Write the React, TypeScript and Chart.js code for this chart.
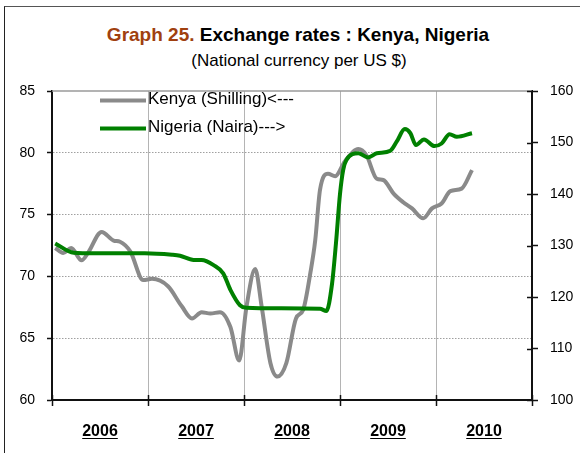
import React, { useEffect, useRef } from "react";
import { Chart, registerables } from "chart.js";

Chart.register(...registerables);

const FONT = "'Liberation Sans', Arial, Helvetica, sans-serif";

// x values: months elapsed since 1 January 2006
const yearLabels = ["2006", "2007", "2008", "2009", "2010"];
const yearStartMonths = [0, 12, 24, 36, 48, 60];
const yearMidMonths = [6, 18, 30, 42, 54];

const leftTicks = [60, 65, 70, 75, 80, 85];
const rightTicks = [100, 110, 120, 130, 140, 150, 160];

const kenyaMonths = [
  0.4, 1.4, 2.4, 3.7, 4.5, 6.2, 7.7, 8.5, 9.8, 11.4, 12.5, 14.5, 16.2, 17.5, 18.7, 19.8,
  21, 22.3, 23.4, 24.3, 25.4, 26.2, 27.3, 28.2, 29.3, 30.5, 31.4, 32.3, 32.9, 33.5, 34.5,
  35.4, 36.6, 38.3, 39.3, 40.6, 41.4, 42.7, 43.9, 45, 46.4, 47.5, 48.7, 49.8, 51.2, 52.5,
];
const kenyaValues = [
  72.3, 71.9, 72.3, 71.3, 71.9, 73.6, 72.9, 72.8, 72.0, 69.7, 69.8, 69.2, 67.6, 66.6, 67.1, 67.0,
  67.1, 65.9, 63.2, 67.5, 70.6, 67.6, 63.0, 61.9, 63.0, 66.6, 67.3, 70.3, 72.9, 77.0, 78.3,
  78.1, 79.3, 80.3, 79.8, 77.9, 77.8, 76.7, 76.0, 75.5, 74.7, 75.5, 75.9, 76.9, 77.1, 78.6,
];

const nigeriaMonths = [
  0.4, 2.7, 5.4, 11.6, 15, 16, 17.7, 18.7, 20.2, 21.4, 22.3, 23.5, 24.3, 28.5, 33.5, 34.3,
  35.0, 35.5, 36.0, 36.4, 36.8, 38.3, 39.5, 40.6, 42.3, 43.1, 44.1, 44.8, 45.5, 46.5, 47.8,
  48.7, 49.7, 50.6, 52.5,
];
const nigeriaValues = [
  130.4, 128.6, 128.5, 128.5, 128.2, 128.0, 127.2, 127.2, 126.2, 124.6, 121.4, 118.4, 117.9,
  117.8, 117.7, 117.3, 122.5, 130.5, 140.0, 144.7, 146.6, 147.9, 147.1, 147.9, 148.4, 150.2,
  152.6, 151.8, 149.5, 150.6, 149.3, 149.8, 151.6, 151.1, 151.8,
];

const seriesLabels = ["Kenya (Shilling)<---", "Nigeria (Naira)--->"];
const seriesColors = ["#8a8a8a", "#008000"];

const decorPlugin = {
  id: "decor",
  beforeDatasetsDraw(chart: any) {
    const { ctx, chartArea, scales } = chart;
    ctx.save();
    // top frame of plot area
    ctx.strokeStyle = "#9a9a9a";
    ctx.lineWidth = 1.5;
    ctx.beginPath();
    ctx.moveTo(chartArea.left, chartArea.top);
    ctx.lineTo(chartArea.right, chartArea.top);
    ctx.stroke();
    // inner halves of crossing tick marks
    ctx.strokeStyle = "#111";
    ctx.lineWidth = 1.5;
    scales.x.ticks.forEach((t: any) => {
      const px = Math.round(scales.x.getPixelForValue(t.value)) + 0.5;
      ctx.beginPath();
      ctx.moveTo(px, chartArea.bottom - 5);
      ctx.lineTo(px, chartArea.bottom);
      ctx.stroke();
    });
    scales.y2.ticks.forEach((t: any) => {
      const py = Math.round(scales.y2.getPixelForValue(t.value)) + 0.5;
      ctx.beginPath();
      ctx.moveTo(chartArea.right - 5, py);
      ctx.lineTo(chartArea.right, py);
      ctx.stroke();
    });
    ctx.restore();
  },
  afterDraw(chart: any) {
    const { ctx, scales } = chart;
    ctx.save();
    // legend inside plot area
    const legendRows = [100.5, 128.5];
    chart.data.datasets.forEach((ds: any, i: number) => {
      const y = legendRows[i];
      ctx.strokeStyle = ds.borderColor;
      ctx.lineWidth = 4;
      ctx.lineCap = "butt";
      ctx.beginPath();
      ctx.moveTo(100, y);
      ctx.lineTo(146, y);
      ctx.stroke();
      ctx.fillStyle = "#000";
      ctx.font = `17px ${FONT}`;
      ctx.textBaseline = "middle";
      ctx.textAlign = "left";
      ctx.fillText(ds.label, 148, y - 1);
    });
    // underline year labels
    const x2 = scales.x2;
    ctx.font = `bold 16px ${FONT}`;
    ctx.textBaseline = "middle";
    const centerY = x2.top + 14 + 16 * 1.2 / 2;
    ctx.strokeStyle = "#000";
    ctx.lineWidth = 1.2;
    x2.ticks.forEach((t: any, i: number) => {
      const label = yearLabels[i];
      const m = ctx.measureText(label);
      const px = x2.getPixelForValue(t.value);
      const uy = Math.round(centerY + m.actualBoundingBoxDescent + 2) + 0.5;
      ctx.beginPath();
      ctx.moveTo(px - m.width / 2, uy);
      ctx.lineTo(px + m.width / 2, uy);
      ctx.stroke();
    });
    ctx.restore();
  },
};

export default function App() {
  const ref = useRef<HTMLCanvasElement>(null);

  useEffect(() => {
    const canvas = ref.current!;
    const chart = new Chart(canvas, {
      type: "line",
      data: {
        datasets: [
          {
            label: seriesLabels[0],
            data: kenyaMonths.map((m, i) => ({ x: m, y: kenyaValues[i] })),
            xAxisID: "x",
            yAxisID: "y",
            borderColor: seriesColors[0],
            borderWidth: 4,
            pointRadius: 0,
            cubicInterpolationMode: "monotone",
            order: 1,
          },
          {
            label: seriesLabels[1],
            data: nigeriaMonths.map((m, i) => ({ x: m, y: nigeriaValues[i] })),
            xAxisID: "x",
            yAxisID: "y2",
            borderColor: seriesColors[1],
            borderWidth: 4,
            pointRadius: 0,
            cubicInterpolationMode: "monotone",
            order: 0,
          },
        ],
      },
      options: {
        responsive: false,
        animation: false,
        devicePixelRatio: 1,
        events: [],
        layout: { padding: { left: 0, right: 0, top: 91, bottom: 0 } },
        plugins: {
          legend: { display: false },
          tooltip: { enabled: false },
          title: { display: false },
        },
        scales: {
          x: {
            type: "linear",
            position: "bottom",
            min: 0,
            max: 60,
            weight: 0,
            afterBuildTicks: (s: any) => {
              s.ticks = yearStartMonths.map((v) => ({ value: v }));
            },
            afterFit: (s: any) => {
              s.height = 8;
            },
            ticks: { display: false },
            grid: {
              color: (c: any) =>
                c.tick && (c.tick.value === 0 || c.tick.value === 60) ? "rgba(0,0,0,0)" : "#b4b4b4",
              lineWidth: 1,
              tickColor: "#111",
              tickLength: 6,
              tickWidth: 1.5,
            },
            border: { color: "#111", width: 2 },
          },
          x2: {
            type: "linear",
            position: "bottom",
            min: 0,
            max: 60,
            weight: 1,
            afterBuildTicks: (s: any) => {
              s.ticks = yearMidMonths.map((v) => ({ value: v }));
            },
            afterFit: (s: any) => {
              s.height = 45;
            },
            ticks: {
              padding: 14,
              autoSkip: false,
              maxRotation: 0,
              color: "#000",
              font: { size: 16, weight: "bold", family: FONT },
              callback: (v: any) => yearLabels[yearMidMonths.indexOf(Number(v))],
            },
            grid: { display: false, drawTicks: false },
            border: { display: false },
          },
          y: {
            position: "left",
            min: 60,
            max: 85,
            afterBuildTicks: (s: any) => {
              s.ticks = leftTicks.map((v) => ({ value: v }));
            },
            afterFit: (s: any) => {
              s.width = 52;
            },
            ticks: { padding: 12, color: "#000", font: { size: 14, family: FONT } },
            grid: {
              color: (c: any) =>
                c.tick && (c.tick.value === 60 || c.tick.value === 85) ? "rgba(0,0,0,0)" : "#a0a0a0",
              lineWidth: 1,
              tickColor: "#111",
              tickLength: 5,
              tickWidth: 1.5,
            },
            border: { color: "#111", width: 2, dash: [1.5, 1.5] },
          },
          y2: {
            position: "right",
            min: 100,
            max: 160,
            afterBuildTicks: (s: any) => {
              s.ticks = rightTicks.map((v) => ({ value: v }));
            },
            afterFit: (s: any) => {
              s.width = 48;
            },
            ticks: { padding: 12, color: "#000", font: { size: 14, family: FONT } },
            grid: {
              drawOnChartArea: false,
              tickColor: "#111",
              tickLength: 6,
              tickWidth: 1.5,
            },
            border: { color: "#111", width: 2 },
          },
        },
      } as any,
      plugins: [decorPlugin],
    });
    return () => chart.destroy();
  }, []);

  return (
    <div style={{ position: "absolute", left: 0, top: 0, width: 580, height: 453, background: "#fff", overflow: "hidden", fontFamily: FONT }}>
      <div
        style={{
          position: "absolute",
          left: 4,
          top: 6,
          width: 600,
          height: 470,
          borderTop: "1.5px solid #555",
          borderLeft: "1px solid #222",
        }}
      />
      <div
        style={{
          position: "absolute",
          left: 0,
          width: 596,
          top: 25,
          fontSize: 19,
          lineHeight: "19px",
          fontWeight: "bold",
          textAlign: "center",
          color: "#000",
          whiteSpace: "nowrap",
        }}
      >
        <span style={{ color: "#a0400f" }}>Graph 25.</span> Exchange rates : Kenya, Nigeria
      </div>
      <div
        style={{
          position: "absolute",
          left: 0,
          width: 598,
          top: 52,
          fontSize: 17,
          lineHeight: "17px",
          textAlign: "center",
          color: "#000",
          whiteSpace: "nowrap",
        }}
      >
        (National currency per US $)
      </div>
      <canvas ref={ref} width={580} height={453} style={{ position: "absolute", left: 0, top: 0, display: "block" }} />
    </div>
  );
}
